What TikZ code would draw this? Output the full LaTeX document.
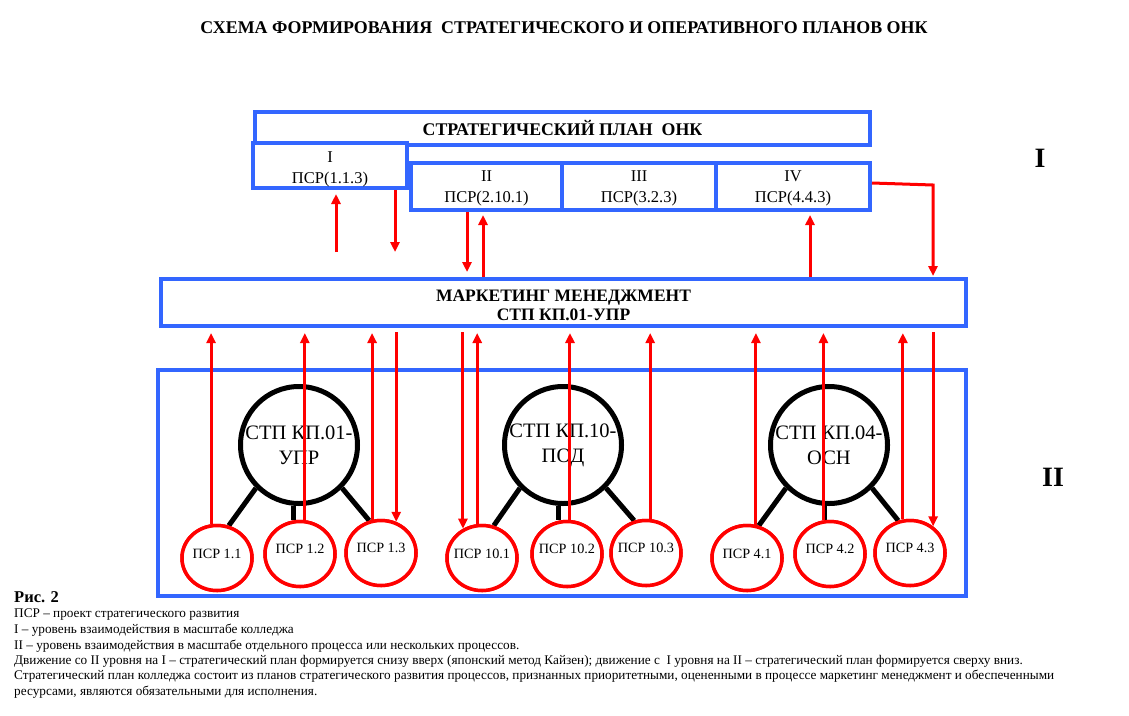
\documentclass[tikz,border=0pt]{standalone}
\usepackage{fontspec}
\setmainfont{Liberation Serif}
\usetikzlibrary{arrows.meta,shapes.geometric,calc}
\definecolor{blu}{RGB}{51,102,255}
\definecolor{rd}{RGB}{255,0,0}
\begin{document}
\begin{tikzpicture}[x=1pt,y=-1pt,
 bluebox/.style={draw=blu,line width=4pt,fill=white,inner sep=0pt,align=center,font=\fontsize{16.5}{21}\selectfont},
 bigc/.style={circle,draw=black,line width=5pt,minimum size=117pt,inner sep=0pt,align=center,font=\fontsize{20.5}{25}\selectfont},
 smallc/.style={ellipse,draw=rd,line width=3.5pt,fill=white,minimum width=70pt,minimum height=65pt,inner sep=0pt},
 psrlbl/.style={inner sep=0pt,font=\fontsize{14.2}{16}\selectfont},
 blk/.style={draw=black,line width=5pt},
 rarr/.style={draw=rd,line width=3pt,-{Triangle[length=10pt,width=9pt]}},
 note/.style={anchor=base west,inner sep=0pt,font=\fontsize{13.25}{16}\selectfont},
]
\useasboundingbox (0,0) rectangle (1129,715);
\fill[white] (0,0) rectangle (1129,715);

% title
\node[anchor=base,inner sep=0pt,font=\bfseries\fontsize{17.9}{20}\selectfont] (title) at (564,33)
  {СХЕМА ФОРМИРОВАНИЯ\ \ СТРАТЕГИЧЕСКОГО И ОПЕРАТИВНОГО ПЛАНОВ ОНК};

% top boxes
\node[bluebox,minimum width=615pt,minimum height=33pt,font=\bfseries\fontsize{17.8}{20}\selectfont] (sp) at (562.5,128.5) {СТРАТЕГИЧЕСКИЙ ПЛАН\ \ ОНК};
\node[bluebox,minimum width=154pt,minimum height=45pt] (b1) at (330,165.5) {};
\node[bluebox,minimum width=151pt,minimum height=47pt] (b2) at (486.5,186.5) {};
\node[bluebox,minimum width=154pt,minimum height=47pt] (b3) at (639,186.5) {};
\node[bluebox,minimum width=154pt,minimum height=47pt] (b4) at (793,186.5) {};
\node[align=center,inner sep=0pt,font=\fontsize{16.5}{21}\selectfont] (t1) at ([yshift=-4pt]b1.center) {I\\ПСР(1.1.3)};
\node[align=center,inner sep=0pt,font=\fontsize{16.5}{21}\selectfont] (t2) at ([yshift=-2pt]b2.center) {II\\ПСР(2.10.1)};
\node[align=center,inner sep=0pt,font=\fontsize{16.5}{21}\selectfont] (t3) at ([yshift=-2pt]b3.center) {III\\ПСР(3.2.3)};
\node[align=center,inner sep=0pt,font=\fontsize{16.5}{21}\selectfont] (t4) at ([yshift=-2pt]b4.center) {IV\\ПСР(4.4.3)};

% marketing
\node[bluebox,minimum width=805pt,minimum height=47pt] (mm) at (563.5,302.5) {};
\node[align=center,inner sep=0pt,font=\bfseries\fontsize{17.5}{19}\selectfont] (tm) at ([yshift=-3pt]mm.center) {МАРКЕТИНГ МЕНЕДЖМЕНТ\\СТП КП.01-УПР};

% bottom box
\node[draw=blu,line width=4pt,minimum width=808pt,minimum height=226pt,inner sep=0pt] (bb) at (562,483) {};

% level labels
\node[anchor=base,inner sep=0pt,font=\bfseries\fontsize{28}{30}\selectfont] (l1) at (1040,167) {I};
\node[anchor=base,inner sep=0pt,font=\bfseries\fontsize{28}{30}\selectfont] (l2) at (1053,486) {II};

% big circles
\node[bigc] (c1) at (299,445) {СТП КП.01-\\УПР};
\node[bigc] (c2) at (563,445) {СТП КП.10-\\ПОД};
\node[bigc] (c3) at (829,445) {СТП КП.04-\\ОСН};

% small ellipses
\node[smallc] (p11) at (217,558) {};
\node[smallc] (p12) at (300,554) {};
\node[smallc] (p13) at (381,553) {};
\node[smallc] (p101) at (482,558) {};
\node[smallc] (p102) at (567,554) {};
\node[smallc] (p103) at (646,553) {};
\node[smallc] (p41) at (747,558) {};
\node[smallc] (p42) at (830,554) {};
\node[smallc] (p43) at (910,553) {};

% black connectors
\draw[blk] (c1.225) -- (p11.70);
\draw[blk] (c1.265) -- (c1.265 |- p12.north);
\draw[blk] (c1.-45) -- (p13.110);
\draw[blk] (c2.225) -- (p101.70);
\draw[blk] (c2.266) -- (c2.266 |- p102.north);
\draw[blk] (c2.-45) -- (p103.110);
\draw[blk] (c3.225) -- (p41.70);
\draw[blk] (c3.266) -- (c3.266 |- p42.north);
\draw[blk] (c3.-45) -- (p43.110);
% ellipses drawn again over the connector ends
\foreach \e in {p11,p12,p13,p101,p102,p103,p41,p42,p43}
  \node[smallc] at (\e.center) {};

% ellipse labels
\node[psrlbl] (s11) at ([yshift=4pt]p11.center) {ПСР 1.1};
\node[psrlbl] (s12) at ([yshift=5pt]p12.center) {ПСР 1.2};
\node[psrlbl] (s13) at ([yshift=5pt]p13.center) {ПСР 1.3};
\node[psrlbl] (s101) at ([yshift=4pt]p101.center) {ПСР 10.1};
\node[psrlbl] (s102) at ([yshift=5pt]p102.center) {ПСР 10.2};
\node[psrlbl] (s103) at ([yshift=5pt]p103.center) {ПСР 10.3};
\node[psrlbl] (s41) at ([yshift=4pt]p41.center) {ПСР 4.1};
\node[psrlbl] (s42) at ([yshift=5pt]p42.center) {ПСР 4.2};
\node[psrlbl] (s43) at ([yshift=5pt]p43.center) {ПСР 4.3};

% red arrows top
\coordinate (f1) at (336,252);
\coordinate (f2) at (395,252);
\coordinate (x3) at (467,0);
\coordinate (x4) at (483,0);
\coordinate (x5) at (810,0);
\coordinate (k1) at (933,185);
\draw[rarr,shorten >=4pt] (f1) -- (f1 |- b1.south);
\draw[rarr] (f2 |- b1.south) -- (f2);
\draw[rarr,shorten >=5pt] (b2.south -| x3) -- (mm.north -| x3);
\draw[rarr,shorten >=3pt] (mm.north -| x4) -- (b2.south -| x4);
\draw[rarr,shorten >=3pt] (mm.north -| x5) -- (b4.south -| x5);
\draw[rarr,shorten >=1pt] (b4.east |- 0,183) -- (k1) -- (k1 |- mm.north);

% red arrows bottom: up
\draw[rarr,shorten >=5pt] (p11.100) -- (p11.100 |- mm.south);
\draw[rarr,shorten >=5pt] (p12.82) -- (p12.82 |- mm.south);
\draw[rarr,shorten >=5pt] (p13.105) -- (p13.105 |- mm.south);
\draw[rarr,shorten >=5pt] (p101.98) -- (p101.98 |- mm.south);
\draw[rarr,shorten >=5pt] (p102.85) -- (p102.85 |- mm.south);
\draw[rarr,shorten >=5pt] (p103.83) -- (p103.83 |- mm.south);
\draw[rarr,shorten >=5pt] (p41.75) -- (p41.75 |- mm.south);
\draw[rarr,shorten >=5pt] (p42.101) -- (p42.101 |- mm.south);
\draw[rarr,shorten >=5pt] (p43.102) -- (p43.102 |- mm.south);
% down
\draw[rarr,shorten <=4pt] (p13.64 |- mm.south) -- (p13.64);
\draw[rarr,shorten <=4pt] (p101.123 |- mm.south) -- (p101.123);
\draw[rarr,shorten <=4pt] (p43.49 |- mm.south) -- (p43.49);

% notes
\node[anchor=base west,inner sep=0pt,font=\bfseries\fontsize{16.5}{18}\selectfont] (fig) at (14,602) {Рис. 2};
\node[note] (n1) at (14,617) {ПСР – проект стратегического развития};
\node[note] (n2) at (14,633) {I – уровень взаимодействия в масштабе колледжа};
\node[note] (n3) at (14,649) {II – уровень взаимодействия в масштабе отдельного процесса или нескольких процессов.};
\node[note] (n4) at (14,664) {Движение со II уровня на I – стратегический план формируется снизу вверх (японский метод Кайзен); движение с\ \ I уровня на II – стратегический план формируется сверху вниз.};
\node[note] (n5) at (14,679) {Стратегический план колледжа состоит из планов стратегического развития процессов, признанных приоритетными, оцененными в процессе маркетинг менеджмент и обеспеченными};
\node[note] (n6) at (14,695) {ресурсами, являются обязательными для исполнения.};
\end{tikzpicture}
\end{document}
